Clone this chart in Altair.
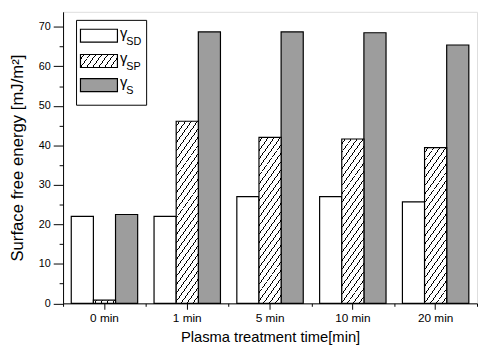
import altair as alt
import pandas as pd

# ---- data -------------------------------------------------------------
times = ["0 min", "1 min", "5 min", "10 min", "20 min"]
series = ["SD", "SP", "S"]
gamma_sd = [22.0, 22.0, 27.0, 27.0, 25.7]
gamma_sp = [0.8, 46.1, 42.0, 41.6, 39.4]
gamma_s = [22.5, 68.7, 68.7, 68.5, 65.4]
y_ticks = list(range(0, 75, 5))

rows = []
for i, t in enumerate(times):
    for s, vals in zip(series, [gamma_sd, gamma_sp, gamma_s]):
        rows.append({"time": t, "series": s, "value": vals[i]})
df = pd.DataFrame(rows)

# ---- layout / style ---------------------------------------------------
PLOT_W = 421
PLOT_H = 296.5
Y_MAX = 73.8
PAD_OUTER = 0.37
BAR_W = PLOT_W / len(times) / (len(series) + 2 * PAD_OUTER)
PX_PER_UNIT = PLOT_H / Y_MAX
FONT = "Liberation Sans"
GRAY = "#9d9d9d"


def hatch(w, h, s=1.4, period=8.5, thick=1.4):
    """Diagonal hatch as a bbox-relative linear gradient with hard stops."""
    h = max(h, 0.5)
    L = s * w + h
    gx, gy = s / h, 1.0 / w
    n2 = gx * gx + gy * gy
    lam = (gx + gy) / n2
    stops = [{"offset": 0, "color": "white"}]
    p = period * 0.5
    while p < L:
        a = p / L
        b = min((p + thick) / L, 1.0)
        stops += [
            {"offset": a, "color": "white"},
            {"offset": a, "color": "black"},
            {"offset": b, "color": "black"},
            {"offset": b, "color": "white"},
        ]
        p += period
    stops.append({"offset": 1, "color": "white"})
    return {"gradient": "linear", "x1": 0, "y1": 0,
            "x2": lam * gx, "y2": lam * gy, "stops": stops}


x_scale = alt.Scale(domain=times, paddingInner=0, paddingOuter=0)
x_main = alt.X("time:N", sort=times, scale=x_scale,
               axis=alt.Axis(title="Plasma treatment time[min]", orient="bottom",
                             labelAngle=0, tickSize=6, labelPadding=3,
                             titlePadding=7, labelFont=FONT, labelFontSize=12,
                             titleFont=FONT, titleFontSize=15,
                             titleFontWeight="normal", labelColor="black",
                             titleColor="black", domainColor="black",
                             tickColor="black", grid=False))
x_ext = alt.X("time:N", sort=times, scale=x_scale,
              axis=alt.Axis(title="", orient="bottom", tickBand="extent",
                            labels=False, domain=False, tickSize=3,
                            tickColor="black", grid=False))
x_none = alt.X("time:N", sort=times, scale=x_scale, axis=None)
xoff = alt.XOffset("series:N", sort=series,
                   scale=alt.Scale(domain=series, paddingOuter=PAD_OUTER,
                                   paddingInner=0))
y_enc = alt.Y("value:Q",
              scale=alt.Scale(domain=[0, Y_MAX], nice=False, zero=True),
              axis=alt.Axis(title="Surface free energy [mJ/m²]", values=y_ticks,
                            labelExpr="datum.value % 10 == 0 ? datum.label : ''",
                            tickSize={"condition": {"test": "datum.value % 10 == 0",
                                                    "value": 10}, "value": 4},
                            labelPadding=3, titlePadding=12, labelFont=FONT,
                            labelFontSize=11, titleFont=FONT, titleFontSize=17,
                            titleFontWeight="normal", labelColor="black",
                            titleColor="black", domainColor="black",
                            tickColor="black", grid=False))

base = alt.Chart(df)
bar_kw = dict(stroke="black", strokeWidth=1.2)

layers = []
layers.append(base.transform_filter(alt.datum.series == "SD")
              .mark_bar(fill="white", **bar_kw)
              .encode(x=x_main, xOffset=xoff, y=y_enc))
layers.append(base.transform_filter(alt.datum.series == "S")
              .mark_bar(fill=GRAY, **bar_kw)
              .encode(x=x_ext, xOffset=xoff, y=y_enc))
for t, v in zip(times, gamma_sp):
    layers.append(base.transform_filter((alt.datum.series == "SP") & (alt.datum.time == t))
                  .mark_bar(fill=hatch(BAR_W, v * PX_PER_UNIT), **bar_kw)
                  .encode(x=x_none, xOffset=xoff, y=y_enc))

# ---- manual legend (box with swatches and subscripted labels) -----------
one = pd.DataFrame({"k": [0]})
layers.append(alt.Chart(one).mark_rect(fill="white", stroke="black", strokeWidth=1)
              .encode(x=alt.value(13.7), x2=alt.value(85), y=alt.value(8.7), y2=alt.value(95)))
row_c = [24.3, 50.0, 74.6]
sw_fill = ["white", hatch(37.6, 13.4), GRAY]
for i, s in enumerate(series):
    c = row_c[i]
    layers.append(alt.Chart(one).mark_rect(fill=sw_fill[i], stroke="black", strokeWidth=1.2)
                  .encode(x=alt.value(17.7), x2=alt.value(55.3),
                          y=alt.value(c - 6.6), y2=alt.value(c + 6.6)))
    lab = pd.DataFrame({"sym": ["γ"], "sub": [s]})
    layers.append(alt.Chart(lab).mark_text(font=FONT, fontSize=15, align="left",
                                           baseline="alphabetic", color="black")
                  .encode(text="sym:N", x=alt.value(58.0), y=alt.value(c + 2)))
    layers.append(alt.Chart(lab).mark_text(font=FONT, fontSize=11, align="left",
                                           baseline="alphabetic", color="black")
                  .encode(text="sub:N", x=alt.value(64.2), y=alt.value(c + 9)))

chart = (alt.layer(*layers)
         .resolve_axis(x="independent")
         .properties(width=PLOT_W, height=PLOT_H,
                     autosize=alt.AutoSizeParams(type="none"),
                     padding={"left": 56, "top": 1, "right": 1, "bottom": 41})
         .configure_view(stroke="black", strokeWidth=1)
         .configure(background="white"))

chart.save("out.html", embed_options={"renderer": "svg", "actions": False})
